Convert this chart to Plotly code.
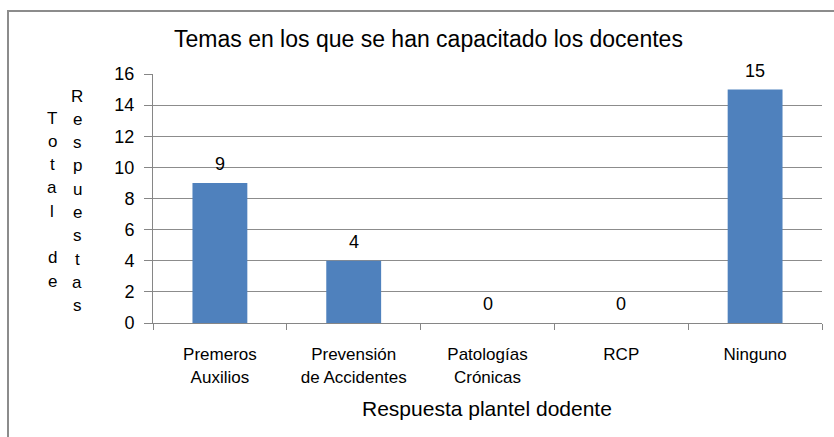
import plotly.graph_objects as go

categories = ["Premeros<br>Auxilios", "Prevensión<br>de Accidentes", "Patologías<br>Crónicas", "RCP", "Ninguno"]
values = [9, 4, 0, 0, 15]
y_ticks = [0, 2, 4, 6, 8, 10, 12, 14, 16]
title_text = "Temas en los que se han capacitado los docentes"
x_title = "Respuesta plantel dodente"
y_title_col1 = "Total de"
y_title_col2 = "Respuestas"

FONT = "Liberation Sans, Arial, sans-serif"

fig = go.Figure()
fig.add_trace(go.Bar(
    x=categories, y=values,
    marker=dict(color="#4F81BD", line=dict(width=0)),
    hoverinfo="x+y",
))

W, H = 834, 437
ml, mr, mt, mb = 153, 12, 74, 114
pw, ph = W - ml - mr, H - mt - mb

def px_to_paper_x(px):
    return (px - ml) / pw

def px_to_paper_y(py):
    return (H - mb - py) / ph

annotations = []
# data labels above bars
for c, v in zip(categories, values):
    annotations.append(dict(
        x=c, y=v, xref="x", yref="y", text=str(v), showarrow=False,
        xanchor="center", yanchor="middle", yshift=19,
        font=dict(family=FONT, size=18, color="#000")))

# stacked-letter y-axis title
spacing = 23.3
for col_x, start_y, txt in [(52, 118, y_title_col1), (77, 96, y_title_col2)]:
    for i, ch in enumerate(txt):
        if ch == " ":
            continue
        annotations.append(dict(
            x=px_to_paper_x(col_x), y=px_to_paper_y(start_y + i * spacing),
            xref="paper", yref="paper", text=ch, showarrow=False,
            xanchor="center", yanchor="middle",
            font=dict(family=FONT, size=17, color="#000")))

annotations.append(dict(
    x=px_to_paper_x(428), y=px_to_paper_y(39), xref="paper", yref="paper",
    text=title_text, showarrow=False, xanchor="center", yanchor="middle",
    font=dict(family=FONT, size=23, color="#000")))
annotations.append(dict(
    x=px_to_paper_x(487), y=px_to_paper_y(408), xref="paper", yref="paper",
    text=x_title, showarrow=False, xanchor="center", yanchor="middle",
    font=dict(family=FONT, size=21, color="#000")))

fig.update_layout(
    width=W, height=H,
    margin=dict(l=ml, r=mr, t=mt, b=mb),
    paper_bgcolor="white", plot_bgcolor="white",
    showlegend=False,
    bargap=0.59,
    annotations=annotations,
    shapes=[dict(type="rect", xref="paper", yref="paper",
                 x0=px_to_paper_x(8), x1=px_to_paper_x(900),
                 y0=px_to_paper_y(500), y1=px_to_paper_y(11),
                 line=dict(color="#8c8c8c", width=2), fillcolor="rgba(0,0,0,0)",
                 layer="below")],
    xaxis=dict(
        type="category",
        showline=True, linecolor="#868686", linewidth=1,
        ticks="outside", tickson="boundaries", ticklen=6, tickcolor="#868686",
        tickfont=dict(family=FONT, size=17, color="#000"),
        ticklabelstandoff=16,
        showgrid=False,
    ),
    yaxis=dict(
        range=[0, 16], tickvals=y_ticks,
        showline=True, linecolor="#868686", linewidth=1,
        ticks="outside", ticklen=8, tickcolor="#868686",
        tickfont=dict(family=FONT, size=18, color="#000"),
        ticklabelstandoff=6,
        showgrid=True, gridcolor="#8c8c8c", gridwidth=1,
        zeroline=False,
    ),
)

fig.write_html("out.html", config={"displayModeBar": False},
               post_script="document.body.style.margin='0px';")
